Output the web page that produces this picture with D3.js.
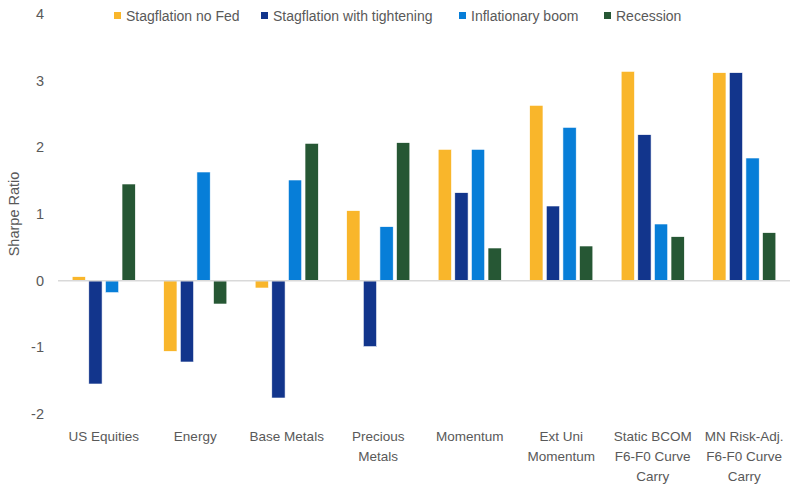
<!DOCTYPE html>
<html>
<head>
<meta charset="utf-8">
<script src="https://cdn.jsdelivr.net/npm/d3@7"></script>
<style>
  html, body { margin: 0; padding: 0; background: #fff; }
  svg { display: block; }
</style>
</head>
<body>
<svg id="chart" width="790" height="485"></svg>
<script>
// Sharpe ratios by asset / strategy under four macro scenarios
const categories = [
  ["US Equities"],
  ["Energy"],
  ["Base Metals"],
  ["Precious", "Metals"],
  ["Momentum"],
  ["Ext Uni", "Momentum"],
  ["Static BCOM", "F6-F0 Curve", "Carry"],
  ["MN Risk-Adj.", "F6-F0 Curve", "Carry"]
];
const seriesNames = ["Stagflation no Fed", "Stagflation with tightening", "Inflationary boom", "Recession"];
const stagflationNoFed   = [0.06, -1.06, -0.11, 1.05, 1.97, 2.63, 3.14, 3.12];
const stagflationTighten = [-1.55, -1.22, -1.76, -0.99, 1.32, 1.12, 2.19, 3.12];
const inflationaryBoom   = [-0.18, 1.63, 1.51, 0.81, 1.97, 2.30, 0.85, 1.84];
const recession          = [1.45, -0.35, 2.06, 2.07, 0.49, 0.52, 0.66, 0.72];
const yTicks = [-2, -1, 0, 1, 2, 3, 4];
const colors = ["#F9B62B", "#12358C", "#077ED8", "#265734"];

const seriesValues = [stagflationNoFed, stagflationTighten, inflationaryBoom, recession];

const svg = d3.select("#chart");
const plot = { left: 58, right: 790, top: 14, bottom: 414 };

const x0 = d3.scaleBand()
  .domain(d3.range(categories.length))
  .range([plot.left, plot.right])
  .paddingInner(0.31)
  .paddingOuter(0.155);
const x1 = d3.scaleBand()
  .domain(d3.range(seriesNames.length))
  .range([0, x0.bandwidth()])
  .paddingInner(0.2);
const y = d3.scaleLinear().domain([-2, 4]).range([plot.bottom, plot.top]);

// Y axis tick labels (no axis line), plain hyphen for negatives
const yAxis = d3.axisLeft(y).tickValues(yTicks).tickSize(0).tickPadding(0).tickFormat(d => String(d));
const yg = svg.append("g").attr("transform", `translate(${plot.left - 14},0)`).call(yAxis);
yg.select(".domain").remove();
yg.selectAll("text")
  .attr("fill", "#595959")
  .style("font-family", "'Liberation Sans', Arial, sans-serif")
  .style("font-size", "14.5px");

// Y title
svg.append("text")
  .attr("transform", `translate(19,${y(1)}) rotate(-90)`)
  .attr("text-anchor", "middle")
  .attr("fill", "#595959")
  .style("font-family", "'Liberation Sans', Arial, sans-serif")
  .style("font-size", "14.5px")
  .text("Sharpe Ratio");

// Bars
const groups = svg.append("g").selectAll("g")
  .data(categories.map((c, i) => i))
  .join("g")
  .attr("transform", i => `translate(${x0(i)},0)`);

groups.selectAll("rect")
  .data(i => seriesValues.map((vals, s) => ({ s, v: vals[i] })))
  .join("rect")
  .attr("x", d => x1(d.s))
  .attr("width", x1.bandwidth())
  .attr("y", d => y(Math.max(0, d.v)))
  .attr("height", d => Math.abs(y(d.v) - y(0)))
  .attr("fill", d => colors[d.s])
  .attr("stroke", "#ffffff")
  .attr("stroke-width", 0.6);

// Zero baseline
svg.append("line")
  .attr("x1", plot.left).attr("x2", plot.right)
  .attr("y1", y(0)).attr("y2", y(0))
  .attr("stroke", "#d9d9d9")
  .attr("stroke-width", 1.5);

// Category labels
const xAxis = svg.append("g");
categories.forEach((lines, i) => {
  const cx = x0(i) + x0.bandwidth() / 2;
  const t = xAxis.append("text")
    .attr("x", cx)
    .attr("y", 441)
    .attr("text-anchor", "middle")
    .attr("fill", "#595959")
    .style("font-family", "'Liberation Sans', Arial, sans-serif")
    .style("font-size", "13.5px");
  lines.forEach((ln, k) => {
    t.append("tspan").attr("x", cx).attr("dy", k === 0 ? 0 : 20).text(ln);
  });
});

// Legend
const legendX = [114, 261, 459, 604];
const legend = svg.append("g");
seriesNames.forEach((name, s) => {
  legend.append("rect")
    .attr("x", legendX[s]).attr("y", 12)
    .attr("width", 7).attr("height", 7)
    .attr("fill", colors[s]);
  legend.append("text")
    .attr("x", legendX[s] + 12).attr("y", 20.5)
    .attr("fill", "#595959")
    .style("font-family", "'Liberation Sans', Arial, sans-serif")
    .style("font-size", "14px")
    .text(name);
});
</script>
</body>
</html>
